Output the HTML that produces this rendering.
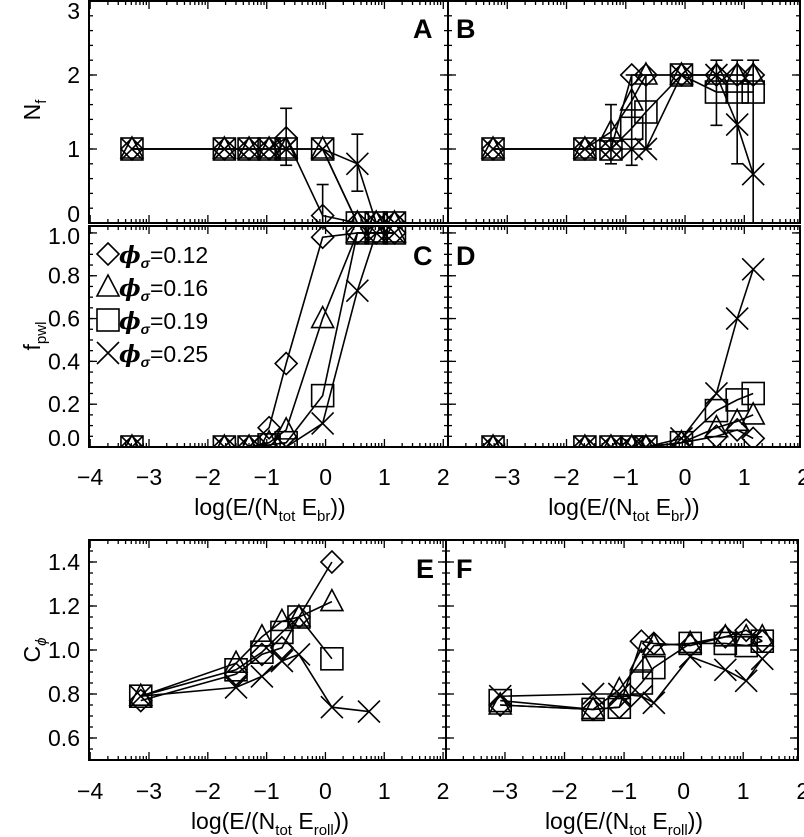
<!DOCTYPE html>
<html><head><meta charset="utf-8"><style>
html,body{margin:0;padding:0;background:#fff}
svg{display:block}
text{font-family:"Liberation Sans",sans-serif;fill:#000}
</style></head><body>
<svg id="fig" width="804" height="837" viewBox="0 0 804 837" xmlns="http://www.w3.org/2000/svg"></svg>
<script>
// ---- data ----
const xA = [-3.29,-1.72,-1.30,-0.96,-0.67,-0.05,0.54,0.86,1.17];
const xB = [-3.24,-1.69,-1.25,-0.90,-0.66,-0.06,0.53,0.88,1.15];
const xE = [-3.14,-1.52,-1.08,-0.74,-0.45,0.11];
const xEcross = [-3.14,-1.52,-1.08,-0.74,-0.45,0.11,0.74];
const xF = [-3.08,-1.52,-1.08,-0.71,-0.50,0.11,0.70,1.05,1.32];

const aDiamond = [1,1,1,1,1.15,0.10,0,0,0];
const aTriangle = [1,1,1,1,1,1,0,0,0];
const aSquare = [1,1,1,1,1,1,0,0,0];
const aCross = [1,1,1,1,1,1,0.80,0,0];
const aErrX = [-0.67,-0.05,0.54];
const aErrLo = [0.78,-0.3,0.43];
const aErrHi = [1.55,0.52,1.20];

const bDiamond = [1,1,1,2,2,2,2,2,2];
const bTriangle = [1,1,1.23,1.65,2,2,2,2,2];
const bSquare = [1,1,1,1.28,1.5,2,1.77,1.77,1.77];
const bCross = [1,1,1,1,1,2,2,1.33,0.66];
const bErrX = [-1.25,-0.90,-0.66,0.53,0.88,1.15];
const bErrLo = [0.80,0.78,1.0,1.32,0.80,-0.5];
const bErrHi = [1.60,2.0,2.0,2.20,2.20,2.20];

const cDiamond = [0,0,0,0.09,0.39,0.98,1,1,1];
const cTriangle = [0,0,0,0.02,0.08,0.60,1,1,1];
const cSquare = [0,0,0,0.01,0.02,0.24,1,1,1];
const cCross = [0,0,0,0,0,0.11,0.73,1,1];

const dDiamond = [0,0,0,0,0,0.02,0.05,0.08,0.04];
const dTriangle = [0,0,0,0,0,0.02,0.09,0.12,0.15];
const dSquare = [0,0,0,0,0,0.02,0.17,0.22,0.25];
const dCross = [0,0,0,0,0,0.04,0.25,0.60,0.83];

const eDiamond = [0.77,0.89,0.98,1.01,1.15,1.40];
const eTriangle = [0.79,0.94,1.06,1.13,1.15,1.22];
const eSquare = [0.79,0.91,0.99,1.08,1.15,0.96];
const eCross = [0.79,0.83,0.88,0.95,0.98,0.74,0.72];

const fDiamond = [0.75,0.73,0.74,1.04,1.03,1.02,1.06,1.09,1.04];
const fTriangle = [0.75,0.73,0.82,0.95,1.02,1.03,1.06,1.06,1.06];
const fSquare = [0.77,0.73,0.74,0.85,0.92,1.03,1.03,1.02,1.04];
const fCross = [0.79,0.80,0.80,0.79,0.76,0.97,0.91,0.86,0.96];

const xTicks = [-4,-3,-2,-1,0,1,2];
const xTickLabels = ["\u22124","\u22123","\u22122","\u22121","0","1","2"];
const nfTicks = [0,1,2,3];
const fTicks = [0,0.2,0.4,0.6,0.8,1.0];
const cTicks = [0.6,0.8,1.0,1.2,1.4];
const legendLabels = ["0.12","0.16","0.19","0.25"];

// ---- helpers ----
const NS="http://www.w3.org/2000/svg";
const svg=document.getElementById('fig');
function mk(tag,attrs,parent){const e=document.createElementNS(NS,tag);for(const k in attrs)e.setAttribute(k,attrs[k]);(parent||svg).appendChild(e);return e;}

function makePanel(name,left,right,top,bottom,xmin,xmax,ymin,ymax){
  const g=mk('g',{});
  
  
  const P={g,left,right,top,bottom,
    sx:v=>left+(v-xmin)/(xmax-xmin)*(right-left),
    sy:v=>bottom-(v-ymin)/(ymax-ymin)*(bottom-top)};
  const cid='clip-'+name;
  const cp=mk('clipPath',{id:cid},g);
  mk('rect',{x:left,y:top,width:right-left,height:bottom-top},cp);
  P.data=mk('g',{'clip-path':'url(#'+cid+')'},g);
  return P;
}
function frame(P,yTicks,yMinorStep,ymin,ymax){
  const ax=mk('g',{stroke:'#000','stroke-width':1.3,fill:'none'},P.g);
  
  
  mk('rect',{x:P.left,y:P.top,width:P.right-P.left,height:P.bottom-P.top,'stroke-width':2},ax);
  for(let i=0;i<xTicks.length;i++){
    const v=xTicks[i];const x=P.sx(v);
    if(x>P.left+1&&x<P.right-1){
      mk('line',{x1:x,x2:x,y1:P.bottom,y2:P.bottom-8},ax);
      mk('line',{x1:x,x2:x,y1:P.top,y2:P.top+8},ax);
    }
    if(i<xTicks.length-1){
      for(let k=2;k<=9;k++){const xm=P.sx(v+Math.log10(k));
        if(xm>P.left+1&&xm<P.right-1){
        mk('line',{x1:xm,x2:xm,y1:P.bottom,y2:P.bottom-4},ax);
        mk('line',{x1:xm,x2:xm,y1:P.top,y2:P.top+4},ax);}}
    }
  }
  for(const v of yTicks){const y=P.sy(v);
    if(y>P.top+1&&y<P.bottom-1){
    mk('line',{x1:P.left,x2:P.left+8,y1:y,y2:y},ax);
    mk('line',{x1:P.right,x2:P.right-8,y1:y,y2:y},ax);}}
  for(let v=ymin;v<=ymax+1e-9;v+=yMinorStep){const y=P.sy(v);
    if(y>P.top+1&&y<P.bottom-1){
    mk('line',{x1:P.left,x2:P.left+4,y1:y,y2:y},ax);
    mk('line',{x1:P.right,x2:P.right-4,y1:y,y2:y},ax);}}
}
function yLabels(P,ticks,fmt){
  for(const v of ticks){
    let yc=Math.min(Math.max(P.sy(v),P.top+10),P.bottom-9);
    const t=mk('text',{x:P.left-9,y:yc+8,'font-size':23,'text-anchor':'end'},P.g);
    t.textContent=fmt(v);
    
    }
}
function xLabels(P,y,skipFirst){
  for(let i=skipFirst?1:0;i<xTicks.length;i++){const x=P.sx(xTicks[i]);
    const t=mk('text',{x:x,y:y,'font-size':23,'text-anchor':'middle'},svg);
    t.textContent=xTickLabels[i];
    
    }
}
function marker(parent,type,x,y){
  const s=11;let e;
  const a={fill:'none',stroke:'#000','stroke-width':1.6};
  if(type==='diamond'){a.points=`${x},${y-s} ${x+s},${y} ${x},${y+s} ${x-s},${y}`;e=mk('polygon',a,parent);}
  else if(type==='triangle'){a.points=`${x},${y-s-1} ${x+s},${y+s-2} ${x-s},${y+s-2}`;e=mk('polygon',a,parent);}
  else if(type==='square'){a.x=x-s;a.y=y-s;a.width=2*s;a.height=2*s;e=mk('rect',a,parent);}
  else {a.d=`M${x-s},${y-s}L${x+s},${y+s}M${x-s},${y+s}L${x+s},${y-s}`;e=mk('path',a,parent);}
  return e;
}
function series(P,name,type,xs,ys){
  const g=mk('g',{},P.data);
  
  
  const pts=xs.map((v,i)=>P.sx(v)+','+P.sy(ys[i])).join(' ');
  mk('polyline',{points:pts,fill:'none',stroke:'#000','stroke-width':1.6},g);
  xs.forEach((v,i)=>{const m=marker(g,type,P.sx(v),P.sy(ys[i]));
    
    });
}
function errbars(P,xs,lo,hi){
  const g=mk('g',{stroke:'#000','stroke-width':1.6},P.data);
  
  
  xs.forEach((v,i)=>{const x=P.sx(v),y1=P.sy(lo[i]),y2=P.sy(hi[i]);
    mk('line',{x1:x,x2:x,y1:y1,y2:y2},g);
    mk('line',{x1:x-6,x2:x+6,y1:y1,y2:y1},g);
    mk('line',{x1:x-6,x2:x+6,y1:y2,y2:y2},g);});
}
function letter(P,txt,x,y){const t=mk('text',{x:x,y:y,'font-size':27,'font-weight':'bold'},P.g);t.textContent=txt;
  
  }

// ---- panels ----
const A=makePanel('panel-a',89,448,1,223,-4.02,2.08,0,3);
const B=makePanel('panel-b',448,800,1,223,-4.0,1.94,0,3);
const C=makePanel('panel-c',89,448,226,447,-4.02,2.08,0,1.0324);
const D=makePanel('panel-d',448,800,226,447,-4.0,1.94,0,1.0324);
const E=makePanel('panel-e',89,446,540,760,-4.02,2.05,0.5,1.5);
const F=makePanel('panel-f',446,798,540,760,-3.99,1.92,0.5,1.5);

frame(A,nfTicks,0.2,0,3); frame(B,nfTicks,0.2,0,3);
frame(C,fTicks,0.05,0,1.05); frame(D,fTicks,0.05,0,1.05);
frame(E,cTicks,0.05,0.5,1.5); frame(F,cTicks,0.05,0.5,1.5);

yLabels(A,nfTicks,v=>String(v));
yLabels(C,fTicks,v=>v.toFixed(1));
yLabels(E,cTicks,v=>v.toFixed(1));
xLabels(C,485,false); xLabels(D,485,true); xLabels(E,799,false); xLabels(F,799,true);

errbars(A,aErrX,aErrLo,aErrHi);
series(A,'series-diamond','diamond',xA,aDiamond);
series(A,'series-triangle','triangle',xA,aTriangle);
series(A,'series-square','square',xA,aSquare);
series(A,'series-cross','cross',xA,aCross);

errbars(B,bErrX,bErrLo,bErrHi);
series(B,'series-diamond','diamond',xB,bDiamond);
series(B,'series-triangle','triangle',xB,bTriangle);
series(B,'series-square','square',xB,bSquare);
series(B,'series-cross','cross',xB,bCross);

series(C,'series-diamond','diamond',xA,cDiamond);
series(C,'series-triangle','triangle',xA,cTriangle);
series(C,'series-square','square',xA,cSquare);
series(C,'series-cross','cross',xA,cCross);

series(D,'series-diamond','diamond',xB,dDiamond);
series(D,'series-triangle','triangle',xB,dTriangle);
series(D,'series-square','square',xB,dSquare);
series(D,'series-cross','cross',xB,dCross);

series(E,'series-diamond','diamond',xE,eDiamond);
series(E,'series-triangle','triangle',xE,eTriangle);
series(E,'series-square','square',xE,eSquare);
series(E,'series-cross','cross',xEcross,eCross);

series(F,'series-diamond','diamond',xF,fDiamond);
series(F,'series-triangle','triangle',xF,fTriangle);
series(F,'series-square','square',xF,fSquare);
series(F,'series-cross','cross',xF,fCross);

letter(A,'A',413,38); letter(B,'B',456,38);
letter(C,'C',413,265); letter(D,'D',456,265);
letter(E,'E',416,578); letter(F,'F',456,578);

// legend
const lg=mk('g',{},svg);


const ltypes=['diamond','triangle','square','cross'];
legendLabels.forEach((lab,i)=>{
  const y=254+i*33;
  const e=mk('g',{},lg);
  
  
  marker(e,ltypes[i],108,y);
  const t=mk('text',{x:119,y:y+9,'font-size':23},e);
  t.innerHTML='<tspan font-style="italic" font-weight="bold" font-family="DejaVu Serif, serif">\u03d5</tspan><tspan font-style="italic" font-weight="bold" font-size="14" dy="5">\u03c3</tspan><tspan dy="-5">=' + lab + '</tspan>';
});

// axis titles
function title(x,y,html,rot){const t=mk('text',{x:x,y:y,'font-size':23,'text-anchor':'middle'},svg);
  if(rot)t.setAttribute('transform',`rotate(-90 ${x} ${y})`);
  t.innerHTML=html;return t;}
let t;
t=title(270,515,'log(E/(N<tspan font-size="15" dy="6">tot</tspan><tspan dy="-6"> E</tspan><tspan font-size="15" dy="6">br</tspan><tspan dy="-6">))</tspan>');

t=title(624,515,'log(E/(N<tspan font-size="15" dy="6">tot</tspan><tspan dy="-6"> E</tspan><tspan font-size="15" dy="6">br</tspan><tspan dy="-6">))</tspan>');

t=title(270,829,'log(E/(N<tspan font-size="15" dy="6">tot</tspan><tspan dy="-6"> E</tspan><tspan font-size="15" dy="6">roll</tspan><tspan dy="-6">))</tspan>');

t=title(624,829,'log(E/(N<tspan font-size="15" dy="6">tot</tspan><tspan dy="-6"> E</tspan><tspan font-size="15" dy="6">roll</tspan><tspan dy="-6">))</tspan>');

t=title(40,110,'N<tspan font-size="15" dy="6">f</tspan>',true);

t=title(40,336,'f<tspan font-size="15" dy="6">pwl</tspan>',true);

t=title(40,650,'C<tspan font-size="15" dy="6" font-style="italic">\u03d5</tspan>',true);

</script>
</body></html>
